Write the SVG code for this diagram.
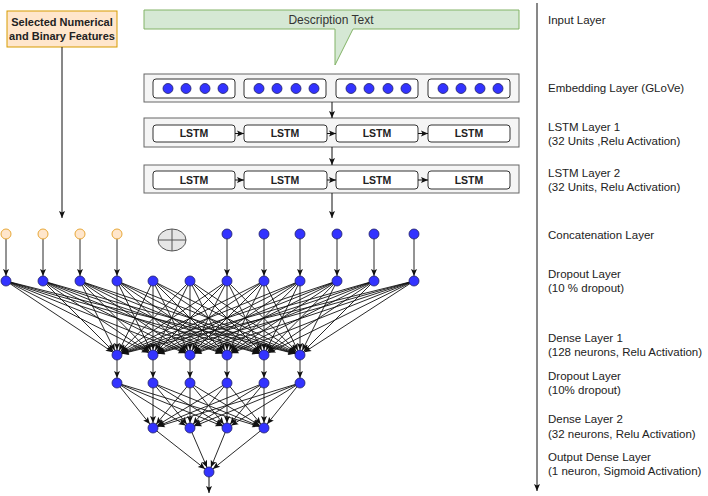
<svg xmlns="http://www.w3.org/2000/svg" width="708" height="496" viewBox="0 0 708 496">
<style>
.lbl{font-family:"Liberation Sans",Arial,sans-serif;font-size:11.5px;fill:#222}
.box{fill:#f5f5f5;stroke:#666;stroke-width:1}
.cell{fill:#fff;stroke:#333;stroke-width:1}
.lstm{font-family:"Liberation Sans",Arial,sans-serif;font-size:10.5px;font-weight:bold;fill:#222;text-anchor:middle}
.dot{fill:#3333ff;stroke:#222266;stroke-width:0.8}
.odot{fill:#ffe6cc;stroke:#e8a838;stroke-width:1}
.e{stroke:#111;stroke-width:0.9;fill:none;marker-end:url(#a)}
.f{stroke:#111;stroke-width:1;fill:none;marker-end:url(#b)}
</style>
<defs>
<marker id="a" markerUnits="userSpaceOnUse" markerWidth="20" markerHeight="10" refX="12" refY="3" orient="auto" overflow="visible"><path d="M0,0 L7,3 L0,6 L1.5,3 Z" fill="#111"/></marker>
<marker id="b" markerUnits="userSpaceOnUse" markerWidth="20" markerHeight="10" refX="7" refY="3" orient="auto" overflow="visible"><path d="M0,0 L7,3 L0,6 L1.5,3 Z" fill="#111"/></marker>
<g id="emb4"><rect class="cell" x="0" y="0" width="82" height="19" rx="3"/><circle class="dot" cx="15" cy="9.5" r="5"/><circle class="dot" cx="33" cy="9.5" r="5"/><circle class="dot" cx="52" cy="9.5" r="5"/><circle class="dot" cx="70" cy="9.5" r="5"/></g>
</defs>
<rect width="708" height="496" fill="#fff"/>

<g id="features"><rect x="7" y="11" width="110" height="36" fill="#ffe6cc" stroke="#d79b00"/><text x="62" y="26" font-family="Liberation Sans,Arial,sans-serif" font-size="11px" font-weight="bold" fill="#222" text-anchor="middle">Selected Numerical</text><text x="62" y="40" font-family="Liberation Sans,Arial,sans-serif" font-size="11px" font-weight="bold" fill="#222" text-anchor="middle">and Binary Features</text></g>

<g id="description"><path d="M144,10 H519 V29 H353 L335,65 L335,29 H144 Z" fill="#d5e8d4" stroke="#82b366"/><text x="331" y="24" font-family="Liberation Sans,Arial,sans-serif" font-size="12px" fill="#333" text-anchor="middle">Description Text</text></g>

<g id="embedding"><rect class="box" x="144" y="74" width="375" height="28"/><use href="#emb4" x="153" y="79"/><use href="#emb4" x="244" y="79"/><use href="#emb4" x="336" y="79"/><use href="#emb4" x="428" y="79"/></g>

<g id="lstm1"><rect class="box" x="144" y="118" width="375" height="29"/>
<rect class="cell" x="153" y="125" width="82" height="17" rx="3"/><rect class="cell" x="244" y="125" width="83" height="17" rx="3"/><rect class="cell" x="336" y="125" width="82" height="17" rx="3"/><rect class="cell" x="428" y="125" width="82" height="17" rx="3"/>
<text class="lstm" x="194" y="137">LSTM</text><text class="lstm" x="285" y="137">LSTM</text><text class="lstm" x="377" y="137">LSTM</text><text class="lstm" x="469" y="137">LSTM</text></g>

<g id="lstm2"><rect class="box" x="144" y="165" width="375" height="28"/>
<rect class="cell" x="153" y="171" width="82" height="18" rx="3"/><rect class="cell" x="244" y="171" width="83" height="18" rx="3"/><rect class="cell" x="336" y="171" width="82" height="18" rx="3"/><rect class="cell" x="428" y="171" width="82" height="18" rx="3"/>
<text class="lstm" x="194" y="184">LSTM</text><text class="lstm" x="285" y="184">LSTM</text><text class="lstm" x="377" y="184">LSTM</text><text class="lstm" x="469" y="184">LSTM</text></g>

<g id="connectors">
<line class="f" x1="62" y1="47" x2="62" y2="218"/>
<line class="f" x1="332" y1="102" x2="332" y2="118"/>
<line class="f" x1="332" y1="147" x2="332" y2="165"/>
<line class="f" x1="332" y1="193" x2="332" y2="218"/>
<line class="f" x1="235" y1="133.5" x2="244" y2="133.5"/>
<line class="f" x1="327" y1="133.5" x2="336" y2="133.5"/>
<line class="f" x1="418" y1="133.5" x2="428" y2="133.5"/>
<line class="f" x1="235" y1="180" x2="244" y2="180"/>
<line class="f" x1="327" y1="180" x2="336" y2="180"/>
<line class="f" x1="418" y1="180" x2="428" y2="180"/>
<line class="f" x1="537" y1="3" x2="537" y2="491"/>
<!-- concat to dropout -->
<line class="e" x1="6" y1="234" x2="6" y2="281"/>
<line class="e" x1="43" y1="234" x2="43" y2="281"/>
<line class="e" x1="80" y1="234" x2="80" y2="281"/>
<line class="e" x1="117" y1="234" x2="117" y2="281"/>
<line class="e" x1="227" y1="234" x2="227" y2="281"/>
<line class="e" x1="264" y1="234" x2="264" y2="281"/>
<line class="e" x1="300" y1="234" x2="300" y2="281"/>
<line class="e" x1="337" y1="234" x2="337" y2="281"/>
<line class="e" x1="374" y1="234" x2="374" y2="281"/>
<line class="e" x1="414" y1="234" x2="414" y2="281"/>
<!-- dropout1 to dense1 -->
<g>
<line class="e" x1="6" y1="281" x2="117" y2="355"/><line class="e" x1="43" y1="281" x2="117" y2="355"/><line class="e" x1="80" y1="281" x2="117" y2="355"/><line class="e" x1="117" y1="281" x2="117" y2="355"/><line class="e" x1="153" y1="281" x2="117" y2="355"/><line class="e" x1="190" y1="281" x2="117" y2="355"/><line class="e" x1="227" y1="281" x2="117" y2="355"/><line class="e" x1="264" y1="281" x2="117" y2="355"/><line class="e" x1="300" y1="281" x2="117" y2="355"/><line class="e" x1="337" y1="281" x2="117" y2="355"/><line class="e" x1="374" y1="281" x2="117" y2="355"/><line class="e" x1="414" y1="281" x2="117" y2="355"/>
<line class="e" x1="6" y1="281" x2="153" y2="355"/><line class="e" x1="43" y1="281" x2="153" y2="355"/><line class="e" x1="80" y1="281" x2="153" y2="355"/><line class="e" x1="117" y1="281" x2="153" y2="355"/><line class="e" x1="153" y1="281" x2="153" y2="355"/><line class="e" x1="190" y1="281" x2="153" y2="355"/><line class="e" x1="227" y1="281" x2="153" y2="355"/><line class="e" x1="264" y1="281" x2="153" y2="355"/><line class="e" x1="300" y1="281" x2="153" y2="355"/><line class="e" x1="337" y1="281" x2="153" y2="355"/><line class="e" x1="374" y1="281" x2="153" y2="355"/><line class="e" x1="414" y1="281" x2="153" y2="355"/>
<line class="e" x1="6" y1="281" x2="190" y2="355"/><line class="e" x1="43" y1="281" x2="190" y2="355"/><line class="e" x1="80" y1="281" x2="190" y2="355"/><line class="e" x1="117" y1="281" x2="190" y2="355"/><line class="e" x1="153" y1="281" x2="190" y2="355"/><line class="e" x1="190" y1="281" x2="190" y2="355"/><line class="e" x1="227" y1="281" x2="190" y2="355"/><line class="e" x1="264" y1="281" x2="190" y2="355"/><line class="e" x1="300" y1="281" x2="190" y2="355"/><line class="e" x1="337" y1="281" x2="190" y2="355"/><line class="e" x1="374" y1="281" x2="190" y2="355"/><line class="e" x1="414" y1="281" x2="190" y2="355"/>
<line class="e" x1="6" y1="281" x2="227" y2="355"/><line class="e" x1="43" y1="281" x2="227" y2="355"/><line class="e" x1="80" y1="281" x2="227" y2="355"/><line class="e" x1="117" y1="281" x2="227" y2="355"/><line class="e" x1="153" y1="281" x2="227" y2="355"/><line class="e" x1="190" y1="281" x2="227" y2="355"/><line class="e" x1="227" y1="281" x2="227" y2="355"/><line class="e" x1="264" y1="281" x2="227" y2="355"/><line class="e" x1="300" y1="281" x2="227" y2="355"/><line class="e" x1="337" y1="281" x2="227" y2="355"/><line class="e" x1="374" y1="281" x2="227" y2="355"/><line class="e" x1="414" y1="281" x2="227" y2="355"/>
<line class="e" x1="6" y1="281" x2="264" y2="355"/><line class="e" x1="43" y1="281" x2="264" y2="355"/><line class="e" x1="80" y1="281" x2="264" y2="355"/><line class="e" x1="117" y1="281" x2="264" y2="355"/><line class="e" x1="153" y1="281" x2="264" y2="355"/><line class="e" x1="190" y1="281" x2="264" y2="355"/><line class="e" x1="227" y1="281" x2="264" y2="355"/><line class="e" x1="264" y1="281" x2="264" y2="355"/><line class="e" x1="300" y1="281" x2="264" y2="355"/><line class="e" x1="337" y1="281" x2="264" y2="355"/><line class="e" x1="374" y1="281" x2="264" y2="355"/><line class="e" x1="414" y1="281" x2="264" y2="355"/>
<line class="e" x1="6" y1="281" x2="300" y2="355"/><line class="e" x1="43" y1="281" x2="300" y2="355"/><line class="e" x1="80" y1="281" x2="300" y2="355"/><line class="e" x1="117" y1="281" x2="300" y2="355"/><line class="e" x1="153" y1="281" x2="300" y2="355"/><line class="e" x1="190" y1="281" x2="300" y2="355"/><line class="e" x1="227" y1="281" x2="300" y2="355"/><line class="e" x1="264" y1="281" x2="300" y2="355"/><line class="e" x1="300" y1="281" x2="300" y2="355"/><line class="e" x1="337" y1="281" x2="300" y2="355"/><line class="e" x1="374" y1="281" x2="300" y2="355"/><line class="e" x1="414" y1="281" x2="300" y2="355"/>
</g>
<!-- dense1 to dropout2 -->
<line class="e" x1="117" y1="355" x2="117" y2="383"/><line class="e" x1="153" y1="355" x2="153" y2="383"/><line class="e" x1="190" y1="355" x2="190" y2="383"/><line class="e" x1="227" y1="355" x2="227" y2="383"/><line class="e" x1="264" y1="355" x2="264" y2="383"/><line class="e" x1="300" y1="355" x2="300" y2="383"/>
<!-- dropout2 to dense2 -->
<line class="e" x1="117" y1="383" x2="153" y2="428"/><line class="e" x1="153" y1="383" x2="153" y2="428"/><line class="e" x1="190" y1="383" x2="153" y2="428"/><line class="e" x1="227" y1="383" x2="153" y2="428"/><line class="e" x1="264" y1="383" x2="153" y2="428"/><line class="e" x1="300" y1="383" x2="153" y2="428"/>
<line class="e" x1="117" y1="383" x2="190" y2="428"/><line class="e" x1="153" y1="383" x2="190" y2="428"/><line class="e" x1="190" y1="383" x2="190" y2="428"/><line class="e" x1="227" y1="383" x2="190" y2="428"/><line class="e" x1="264" y1="383" x2="190" y2="428"/><line class="e" x1="300" y1="383" x2="190" y2="428"/>
<line class="e" x1="117" y1="383" x2="227" y2="428"/><line class="e" x1="153" y1="383" x2="227" y2="428"/><line class="e" x1="190" y1="383" x2="227" y2="428"/><line class="e" x1="227" y1="383" x2="227" y2="428"/><line class="e" x1="264" y1="383" x2="227" y2="428"/><line class="e" x1="300" y1="383" x2="227" y2="428"/>
<line class="e" x1="117" y1="383" x2="264" y2="428"/><line class="e" x1="153" y1="383" x2="264" y2="428"/><line class="e" x1="190" y1="383" x2="264" y2="428"/><line class="e" x1="227" y1="383" x2="264" y2="428"/><line class="e" x1="264" y1="383" x2="264" y2="428"/><line class="e" x1="300" y1="383" x2="264" y2="428"/>
<!-- dense2 to output -->
<line class="e" x1="153" y1="428" x2="209" y2="472"/><line class="e" x1="190" y1="428" x2="209" y2="472"/><line class="e" x1="227" y1="428" x2="209" y2="472"/><line class="e" x1="264" y1="428" x2="209" y2="472"/>
<line class="f" x1="209" y1="472" x2="209" y2="493"/>
</g>

<g id="concat">
<circle class="odot" cx="6" cy="234" r="5"/><circle class="odot" cx="43" cy="234" r="5"/><circle class="odot" cx="80" cy="234" r="5"/><circle class="odot" cx="117" cy="234" r="5"/>
<circle class="dot" cx="227" cy="234" r="5"/><circle class="dot" cx="264" cy="234" r="5"/><circle class="dot" cx="300" cy="234" r="5"/><circle class="dot" cx="337" cy="234" r="5"/><circle class="dot" cx="374" cy="234" r="5"/><circle class="dot" cx="414" cy="234" r="5"/>
</g>
<g id="concat-op"><ellipse cx="172" cy="240" rx="14" ry="11" fill="#e6e6e6" stroke="#555"/><line x1="158" y1="240" x2="186" y2="240" stroke="#555"/><line x1="172" y1="229" x2="172" y2="251" stroke="#555"/></g>
<g id="dropout1">
<circle class="dot" cx="6" cy="281" r="5"/><circle class="dot" cx="43" cy="281" r="5"/><circle class="dot" cx="80" cy="281" r="5"/><circle class="dot" cx="117" cy="281" r="5"/><circle class="dot" cx="153" cy="281" r="5"/><circle class="dot" cx="190" cy="281" r="5"/><circle class="dot" cx="227" cy="281" r="5"/><circle class="dot" cx="264" cy="281" r="5"/><circle class="dot" cx="300" cy="281" r="5"/><circle class="dot" cx="337" cy="281" r="5"/><circle class="dot" cx="374" cy="281" r="5"/><circle class="dot" cx="414" cy="281" r="5"/>
</g>
<g id="dense1">
<circle class="dot" cx="117" cy="355" r="5"/><circle class="dot" cx="153" cy="355" r="5"/><circle class="dot" cx="190" cy="355" r="5"/><circle class="dot" cx="227" cy="355" r="5"/><circle class="dot" cx="264" cy="355" r="5"/><circle class="dot" cx="300" cy="355" r="5"/>
</g>
<g id="dropout2">
<circle class="dot" cx="117" cy="383" r="5"/><circle class="dot" cx="153" cy="383" r="5"/><circle class="dot" cx="190" cy="383" r="5"/><circle class="dot" cx="227" cy="383" r="5"/><circle class="dot" cx="264" cy="383" r="5"/><circle class="dot" cx="300" cy="383" r="5"/>
</g>
<g id="dense2">
<circle class="dot" cx="153" cy="428" r="5"/><circle class="dot" cx="190" cy="428" r="5"/><circle class="dot" cx="227" cy="428" r="5"/><circle class="dot" cx="264" cy="428" r="5"/>
</g>
<g id="output"><circle class="dot" cx="209" cy="472" r="5"/></g>

<g id="labels">
<text class="lbl" x="548" y="24">Input Layer</text>
<text class="lbl" x="548" y="92">Embedding Layer (GLoVe)</text>
<text class="lbl" x="548" y="131">LSTM Layer 1</text><text class="lbl" x="548" y="145">(32 Units ,Relu Activation)</text>
<text class="lbl" x="548" y="177">LSTM Layer 2</text><text class="lbl" x="548" y="191">(32 Units, Relu Activation)</text>
<text class="lbl" x="548" y="239">Concatenation Layer</text>
<text class="lbl" x="548" y="278">Dropout Layer</text><text class="lbl" x="548" y="292">(10 % dropout)</text>
<text class="lbl" x="548" y="342">Dense Layer 1</text><text class="lbl" x="548" y="356">(128 neurons, Relu Activation)</text>
<text class="lbl" x="548" y="380">Dropout Layer</text><text class="lbl" x="548" y="394">(10% dropout)</text>
<text class="lbl" x="548" y="423">Dense Layer 2</text><text class="lbl" x="548" y="438">(32 neurons, Relu Activation)</text>
<text class="lbl" x="548" y="461">Output Dense Layer</text><text class="lbl" x="548" y="475">(1 neuron, Sigmoid Activation)</text>
</g>
</svg>
